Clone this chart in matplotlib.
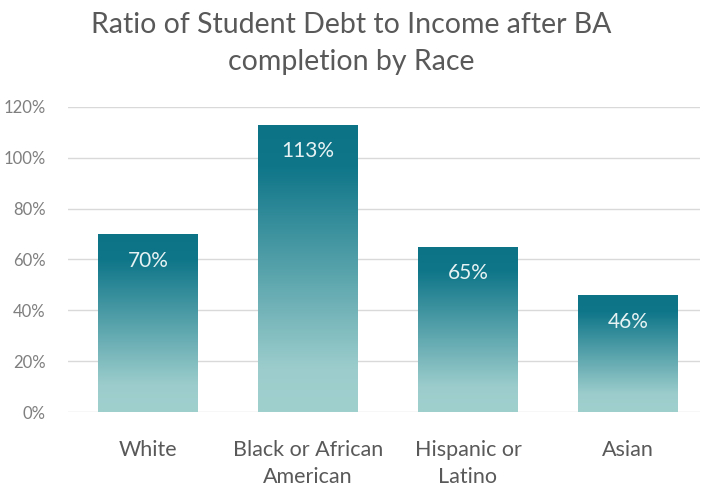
import matplotlib.pyplot as plt
import numpy as np
from matplotlib.colors import LinearSegmentedColormap

categories = ["White", "Black or African\nAmerican", "Hispanic or\nLatino", "Asian"]
ratios = [70, 113, 65, 46]
yticks = [0, 20, 40, 60, 80, 100, 120]

plt.rcParams['font.family'] = ['Lato', 'DejaVu Sans']

fig = plt.figure(figsize=(7.02, 4.90), dpi=100)
ax = fig.add_axes([0.097, 0.159, 0.9, 0.623])

# gradient light at bottom -> dark teal at top
cmap = LinearSegmentedColormap.from_list(
    "teal", [(0.0, "#a0d0ce"), (0.15, "#9ccdcc"), (0.85, "#0f7689"), (1.0, "#0c7286")])

x = np.arange(len(categories))
bars = ax.bar(x, ratios, width=0.625, color="none", edgecolor="none", zorder=2)
grad = np.linspace(0, 1, 256).reshape(-1, 1)
for b in bars:
    x0, w, h = b.get_x(), b.get_width(), b.get_height()
    im = ax.imshow(grad, cmap=cmap, origin="lower", aspect="auto",
                   extent=[x0, x0 + w, 0, h], zorder=2)
    im.set_clip_path(b)
    ax.text(x0 + w / 2, h - 10.5, f"{h:.0f}%", ha="center", va="center",
            color="#e6f2f3", fontsize=15, zorder=3)

ax.set_xlim(-0.5, 3.45)
ax.set_ylim(0, 120)
ax.set_yticks(yticks)
ax.set_yticklabels([f"{t}%" for t in yticks])
ax.set_xticks(x)
ax.set_xticklabels(categories, fontsize=15.5, color="#595959", linespacing=1.45)
ax.tick_params(axis="y", labelsize=12, labelcolor="#7f7f7f", length=0, pad=16)
ax.tick_params(axis="x", length=0, pad=20)
ax.grid(axis="y", color="#d9d9d9", linewidth=1, zorder=0)
ax.set_axisbelow(True)
for s in ax.spines.values():
    s.set_visible(False)

fig.text(0.5, 0.949, "Ratio of Student Debt to Income after BA", ha="center", va="center",
         fontsize=20.5, color="#595959")
fig.text(0.5, 0.873, "completion by Race", ha="center", va="center",
         fontsize=20.5, color="#595959")

fig.savefig("out.png", dpi=100)
